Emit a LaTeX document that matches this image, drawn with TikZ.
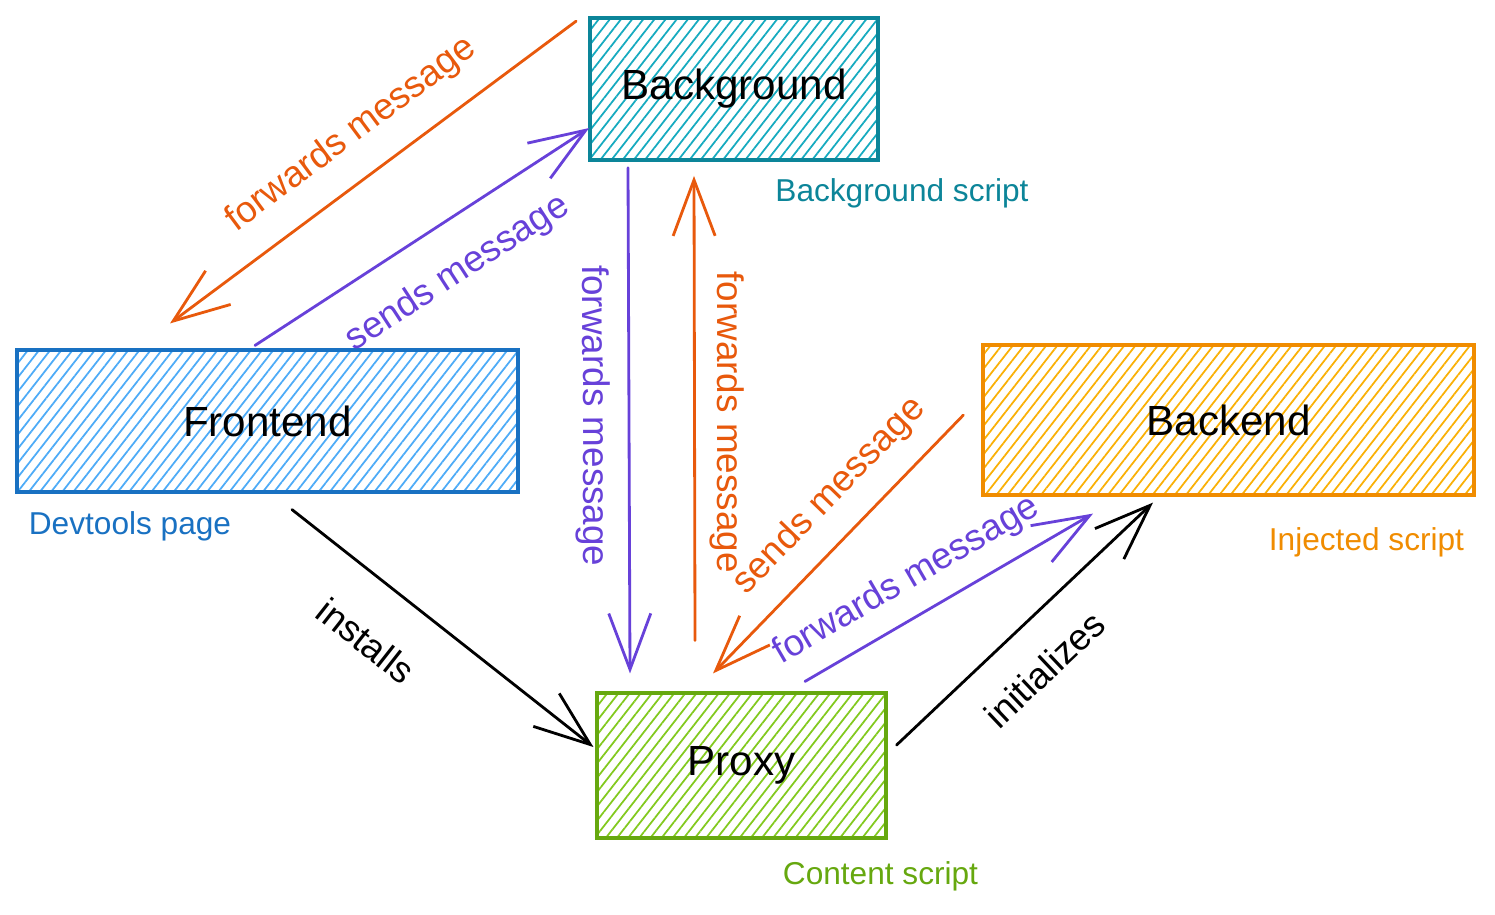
\documentclass[tikz,border=0pt]{standalone}
\usepackage{fontspec}
\setmainfont{Liberation Sans}
\usetikzlibrary{arrows.meta,patterns.meta}

\definecolor{tealline}{HTML}{0C8599}
\definecolor{tealhatch}{HTML}{15AABF}
\definecolor{blueline}{HTML}{1971C2}
\definecolor{bluehatch}{HTML}{4DABF7}
\definecolor{orangeline}{HTML}{F08C00}
\definecolor{orangehatch}{HTML}{FAB005}
\definecolor{greenline}{HTML}{66A80F}
\definecolor{greenhatch}{HTML}{82C91E}
\definecolor{msgorange}{HTML}{E8590C}
\definecolor{msgpurple}{HTML}{6741D9}

\begin{document}
\begin{tikzpicture}[>={Straight Barb[length=5.6mm,width=4.2mm]},
    box/.style={draw=#1line, line width=0.9pt,
      pattern={Lines[angle=52,distance=2.5pt,line width=0.5pt]}, pattern color=#1hatch,
      font=\fontsize{12}{14}\selectfont, inner sep=0pt},
    link/.style={->, line width=0.8pt, line cap=round, line join=round},
    msg/.style={font=\fontsize{10.5}{12}\selectfont, inner sep=0pt},
    note/.style={font=\fontsize{9}{11}\selectfont, inner sep=0pt}]
    \useasboundingbox (0,0) rectangle (14.95,-9.14);

    % Boxes
    \node[box=teal, minimum width=2.88cm, minimum height=1.42cm] (bg) at (7.34,-0.89) {Background};
    \node[box=blue, minimum width=5.01cm, minimum height=1.42cm] (fe) at (2.675,-4.21) {Frontend};
    \node[box=orange, minimum width=4.91cm, minimum height=1.50cm] (be) at (12.285,-4.20) {Backend};
    \node[box=green, minimum width=2.89cm, minimum height=1.45cm] (px) at (7.415,-7.655) {Proxy};

    % Notes
    \node[note, text=tealline] (bgnote) at (9.02,-1.93) {Background script};
    \node[note, text=blueline] (fenote) at (1.30,-5.26) {Devtools page};
    \node[note, text=orangeline] (benote) at (13.665,-5.42) {Injected script};
    \node[note, text=greenline] (pxnote) at (8.805,-8.76) {Content script};

    % Frontend <-> Background
    \draw[link, msgorange] ([shift={(-0.13,-0.04)}]bg.north west) -- ([shift={(-0.975,0.25)}]fe.north)
      node[msg, pos=0.49, sloped, above=7pt] {forwards message};
    \draw[link, msgpurple] ([shift={(-0.125,0.03)}]fe.north) -- ([shift={(0,-0.39)}]bg.west)
      node[msg, pos=0.525, sloped, below=9pt] {sends message};

    % Background <-> Proxy
    \draw[link, msgpurple] ([shift={(-1.06,-0.07)}]bg.south) -- ([shift={(-1.115,0.18)}]px.north)
      node[msg, pos=0.49, sloped, below=5pt] {forwards message};
    \draw[link, msgorange] ([shift={(-0.465,0.51)}]px.north) -- ([shift={(-0.40,-0.15)}]bg.south)
      node[msg, pos=0.47, sloped, above=4pt] {forwards message};

    % Backend <-> Proxy
    \draw[link, msgorange] ([shift={(-0.18,0.05)}]be.west) -- ([shift={(-0.285,0.18)}]px.north)
      node[msg, pos=0.42, sloped, above=6pt] {sends message};
    \draw[link, msgpurple] ([shift={(0.635,0.10)}]px.north) -- ([shift={(-1.355,-0.17)}]be.south)
      node[msg, pos=0.416, sloped, above=5pt] {forwards message};

    % Setup
    \draw[link] ([shift={(0.245,-0.16)}]fe.south) -- ([shift={(-0.02,0.185)}]px.west)
      node[msg, pos=0.363, sloped, below=12pt] {installs};
    \draw[link] ([shift={(0.09,0.205)}]px.east) -- ([shift={(-0.755,-0.06)}]be.south)
      node[msg, pos=0.452, sloped, below=9pt] {initializes};
\end{tikzpicture}
\end{document}
